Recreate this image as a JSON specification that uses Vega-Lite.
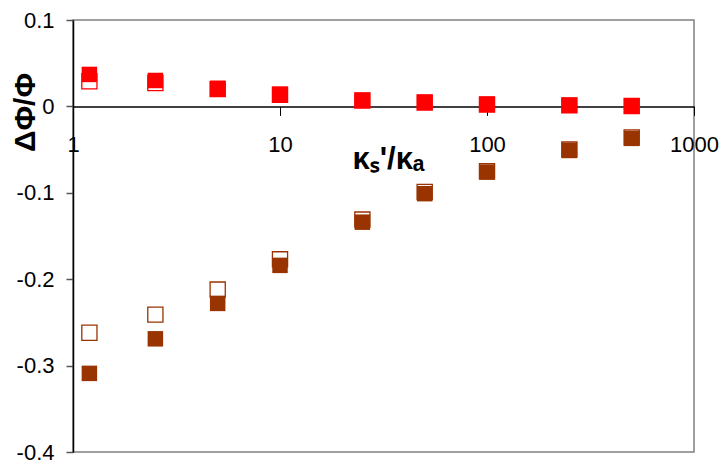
{
  "$schema": "https://vega.github.io/schema/vega-lite/v6.json",
  "width": 621,
  "height": 432,
  "autosize": "none",
  "padding": {"left": 73, "top": 20, "right": 28, "bottom": 14},
  "background": "white",
  "config": {
    "view": {"stroke": "#808080", "strokeWidth": 1.5},
    "font": "Liberation Sans"
  },
  "data": {
    "values": [
      {"k": 1.2, "v": 0.029, "color": "red", "kind": "open"},
      {"k": 2.5, "v": 0.027, "color": "red", "kind": "open"},
      {"k": 5, "v": 0.020, "color": "red", "kind": "open"},
      {"k": 10, "v": 0.0135, "color": "red", "kind": "open"},
      {"k": 25, "v": 0.0068, "color": "red", "kind": "open"},
      {"k": 50, "v": 0.0045, "color": "red", "kind": "open"},
      {"k": 100, "v": 0.0023, "color": "red", "kind": "open"},
      {"k": 250, "v": 0.0012, "color": "red", "kind": "open"},
      {"k": 500, "v": 0.0005, "color": "red", "kind": "open"},
      {"k": 1.2, "v": -0.262, "color": "brown", "kind": "open"},
      {"k": 2.5, "v": -0.241, "color": "brown", "kind": "open"},
      {"k": 5, "v": -0.212, "color": "brown", "kind": "open"},
      {"k": 10, "v": -0.177, "color": "brown", "kind": "open"},
      {"k": 25, "v": -0.131, "color": "brown", "kind": "open"},
      {"k": 50, "v": -0.099, "color": "brown", "kind": "open"},
      {"k": 100, "v": -0.075, "color": "brown", "kind": "open"},
      {"k": 250, "v": -0.050, "color": "brown", "kind": "open"},
      {"k": 500, "v": -0.036, "color": "brown", "kind": "open"},
      {"k": 1.2, "v": 0.037, "color": "red", "kind": "filled"},
      {"k": 2.5, "v": 0.030, "color": "red", "kind": "filled"},
      {"k": 5, "v": 0.021, "color": "red", "kind": "filled"},
      {"k": 10, "v": 0.014, "color": "red", "kind": "filled"},
      {"k": 25, "v": 0.007, "color": "red", "kind": "filled"},
      {"k": 50, "v": 0.0047, "color": "red", "kind": "filled"},
      {"k": 100, "v": 0.0024, "color": "red", "kind": "filled"},
      {"k": 250, "v": 0.0013, "color": "red", "kind": "filled"},
      {"k": 500, "v": 0.0005, "color": "red", "kind": "filled"},
      {"k": 1.2, "v": -0.309, "color": "brown", "kind": "filled"},
      {"k": 2.5, "v": -0.269, "color": "brown", "kind": "filled"},
      {"k": 5, "v": -0.228, "color": "brown", "kind": "filled"},
      {"k": 10, "v": -0.184, "color": "brown", "kind": "filled"},
      {"k": 25, "v": -0.134, "color": "brown", "kind": "filled"},
      {"k": 50, "v": -0.101, "color": "brown", "kind": "filled"},
      {"k": 100, "v": -0.076, "color": "brown", "kind": "filled"},
      {"k": 250, "v": -0.051, "color": "brown", "kind": "filled"},
      {"k": 500, "v": -0.037, "color": "brown", "kind": "filled"}
    ]
  },
  "encoding": {
    "x": {
      "field": "k",
      "type": "quantitative",
      "scale": {"type": "log", "domain": [1, 1000], "nice": false},
      "axis": {
        "orient": "bottom",
        "offset": -345.6,
        "values": [1, 10, 100, 1000],
        "format": "d",
        "grid": false,
        "domainColor": "black",
        "domainWidth": 1.5,
        "tickColor": "black",
        "tickSize": 9,
        "tickWidth": 1,
        "labelFontSize": 22,
        "labelColor": "black",
        "labelPadding": 19,
        "labelFlush": false,
        "labelOverlap": false,
        "title": "κₛ'/κₐ",
        "titleFontSize": 31,
        "titleFontWeight": "bold",
        "titleColor": "black",
        "titleX": 315,
        "titleY": 53,
        "titleAlign": "center",
        "titleBaseline": "middle"
      }
    },
    "y": {
      "field": "v",
      "type": "quantitative",
      "scale": {"domain": [-0.4, 0.1], "nice": false, "zero": false},
      "axis": {
        "values": [-0.4, -0.3, -0.2, -0.1, 0, 0.1],
        "labelExpr": "datum.value == 0 ? '0' : (datum.value < 0 ? '-' + format(-datum.value, '.1f') : format(datum.value, '.1f'))",
        "grid": false,
        "domainColor": "black",
        "domainWidth": 1.5,
        "tickColor": "#555555",
        "tickSize": 7,
        "tickWidth": 1.5,
        "labelFontSize": 22,
        "labelColor": "black",
        "labelPadding": 12,
        "labelFlush": false,
        "labelOverlap": false,
        "title": "ΔΦ/Φ",
        "titleFontSize": 30,
        "titleFontWeight": "bold",
        "titleColor": "black",
        "titleAngle": -90,
        "titleX": -48,
        "titleY": 92,
        "titleAlign": "center",
        "titleBaseline": "middle"
      }
    },
    "color": {
      "field": "color",
      "type": "nominal",
      "scale": {"domain": ["red", "brown"], "range": ["#FF0000", "#993300"]},
      "legend": null
    }
  },
  "layer": [
    {
      "transform": [{"filter": "datum.kind == 'open'"}],
      "mark": {"type": "point", "shape": "square", "filled": false, "size": 230, "strokeWidth": 1.3, "opacity": 1}
    },
    {
      "transform": [{"filter": "datum.kind == 'filled'"}],
      "mark": {"type": "point", "shape": "square", "filled": true, "size": 240, "opacity": 1}
    }
  ]
}
